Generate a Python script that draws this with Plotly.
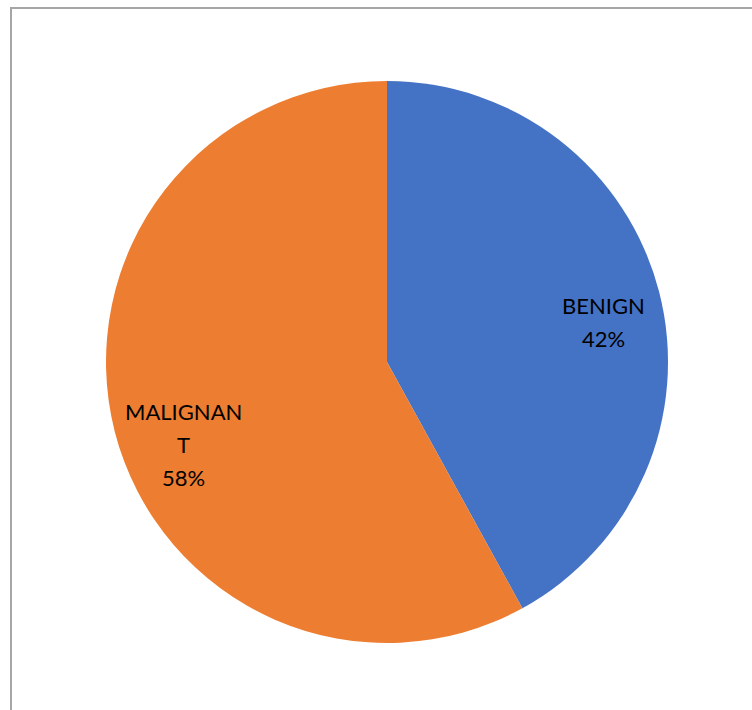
import plotly.graph_objects as go

# Tumour classification split
labels = ["BENIGN", "MALIGNANT"]
shares = [42, 58]
# category names as they wrap inside the slices
label_lines = [["BENIGN"], ["MALIGNAN", "T"]]
colors = ["#4472C4", "#ED7D31"]

W, H = 752, 710
cx, cy, r = 387, 362, 281

fig = go.Figure(
    go.Pie(
        labels=labels,
        values=shares,
        textinfo="none",
        sort=False,
        direction="clockwise",
        rotation=0,
        marker=dict(colors=colors, line=dict(width=0)),
        hoverinfo="label+percent",
        showlegend=False,
        domain=dict(
            x=[(cx - r) / W, (cx + r) / W],
            y=[1 - (cy + r) / H, 1 - (cy - r) / H],
        ),
    )
)

# data labels: category name lines followed by the percentage
label_anchor = [(603, 305), (183, 411)]  # pixel centre of first text line
line_gap = 33
font = dict(family="Lato, Liberation Sans, sans-serif", size=22, color="#000000")
total = sum(shares)
for lines, share, (ax, ay) in zip(label_lines, shares, label_anchor):
    rows = lines + [f"{round(100 * share / total)}%"]
    for i, row in enumerate(rows):
        fig.add_annotation(
            x=ax / W, y=1 - (ay + i * line_gap) / H,
            xref="paper", yref="paper",
            text=row, showarrow=False,
            xanchor="center", yanchor="middle",
            font=font,
        )

# chart-area frame (runs off the right and bottom edges)
fig.add_shape(
    type="rect", xref="paper", yref="paper",
    x0=11 / W, x1=1.01, y0=-0.01, y1=1 - 8 / H,
    line=dict(color="#A6A6A6", width=2), fillcolor="rgba(0,0,0,0)",
)

fig.update_layout(
    width=W, height=H,
    margin=dict(l=0, r=0, t=0, b=0),
    paper_bgcolor="#FFFFFF",
    plot_bgcolor="#FFFFFF",
)

fig.write_html("out.html")
